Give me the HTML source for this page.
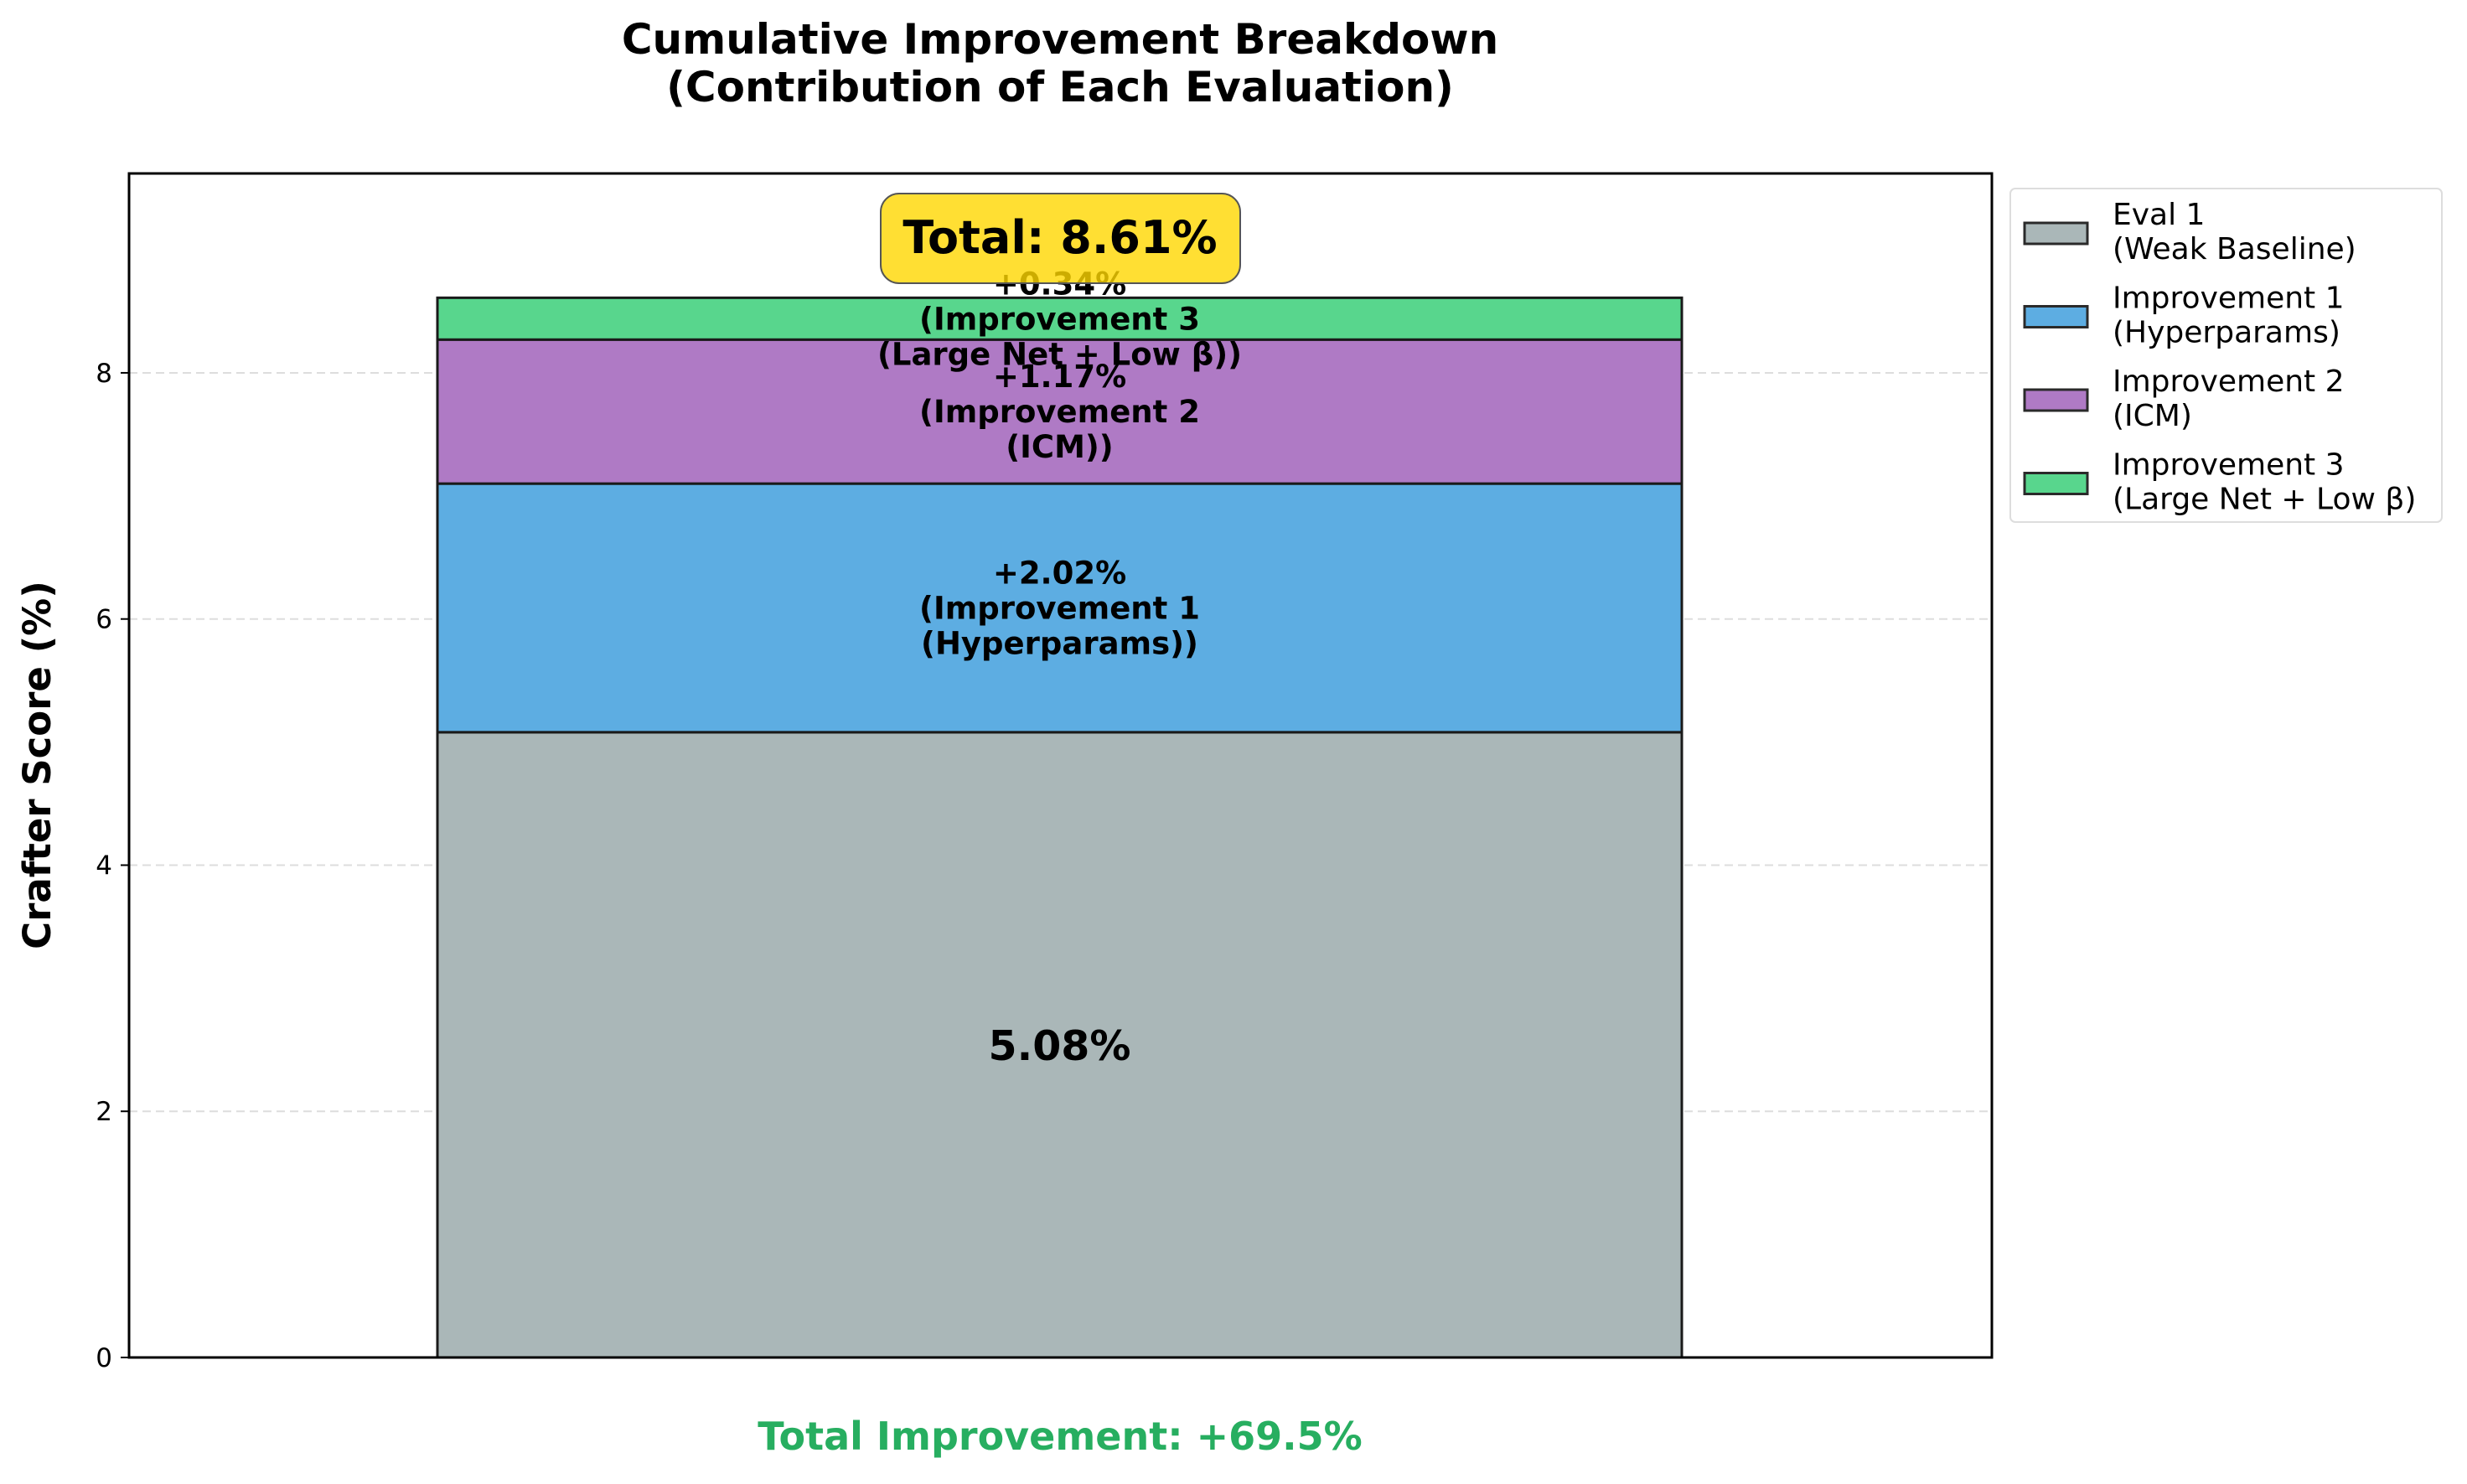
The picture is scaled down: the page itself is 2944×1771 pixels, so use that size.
<!DOCTYPE html>
<html><head><meta charset="utf-8"><style>
html,body{margin:0;padding:0;background:#fff}
svg{display:block;font-family:"DejaVu Sans","Liberation Sans",sans-serif}
</style></head><body>
<svg id="chart" width="2944" height="1771" viewBox="0 0 2944 1771" xmlns="http://www.w3.org/2000/svg">
<rect width="2944" height="1771" fill="#fff"/>
<text x="1265" y="64" text-anchor="middle" font-size="50" font-weight="bold">Cumulative Improvement Breakdown</text>
<text x="1265" y="121" text-anchor="middle" font-size="50" font-weight="bold">(Contribution of Each Evaluation)</text>
<g id="grid"></g>
<g id="bars"></g>
<g id="labels"></g>
<rect x="154" y="207" width="2223" height="1413" fill="none" stroke="#000" stroke-width="3"/>
<g id="yaxis"></g>
<text transform="translate(60,913) rotate(-90)" text-anchor="middle" font-size="45" font-weight="bold">Crafter Score (%)</text>
<g>
<rect x="1051" y="231" width="429" height="107" rx="22" fill="#ffd700" fill-opacity="0.8" stroke="#555" stroke-width="2"/>
<text x="1265" y="302" text-anchor="middle" font-size="54" font-weight="bold">Total: 8.61%</text>
</g>
<text x="1265" y="1730" text-anchor="middle" font-size="46" font-weight="bold" fill="#27ae60">Total Improvement: +69.5%</text>
<g>
<rect x="2399" y="225" width="515" height="398" rx="6" fill="#fff" stroke="#ddd" stroke-width="2"/>
<g id="legend-items"></g>
</g>
</svg>
<script>
const categories = ["Eval 1", "Improvement 1", "Improvement 2", "Improvement 3"];
const subLabels = ["Weak Baseline", "Hyperparams", "ICM", "Large Net + Low β"];
const values = [5.08, 2.02, 1.17, 0.34];
const colors = ["#aab7b8", "#5dade2", "#af7ac5", "#58d68d"];
const yTicks = [0, 2, 4, 6, 8];

const NS = "http://www.w3.org/2000/svg";
const X0 = 154, X1 = 2377, Y0 = 1620, YMAX = 9.62, PLOT_H = 1413;
const y = v => Y0 - v / YMAX * PLOT_H;
const barL = 522, barR = 2007, cx = (barL + barR) / 2;
function mk(tag, attrs, parent) {
  const e = document.createElementNS(NS, tag);
  for (const k in attrs) e.setAttribute(k, attrs[k]);
  parent.appendChild(e); return e;
}
const grid = document.getElementById("grid"), yaxis = document.getElementById("yaxis");
yTicks.forEach(t => {
  const g = mk("line", {x1: X0, x2: X1, y1: y(t), y2: y(t), stroke: "#ddd", "stroke-width": 2, "stroke-dasharray": "10,6"}, grid);
  
  
  const tk = mk("line", {x1: X0 - 10, x2: X0, y1: y(t), y2: y(t), stroke: "#000", "stroke-width": 2}, yaxis);
  
  
  const tl = mk("text", {x: X0 - 20, y: y(t) + 11, "text-anchor": "end", "font-size": 31}, yaxis);
  tl.textContent = t;
  
  
});
const bars = document.getElementById("bars"), labels = document.getElementById("labels");
let cum = 0;
values.forEach((v, i) => {
  const r = mk("rect", {x: barL, y: y(cum + v), width: barR - barL, height: y(cum) - y(cum + v), fill: colors[i], stroke: "#1a1a1a", "stroke-width": 3}, bars);
  
  
  const mid = y(cum + v / 2);
  if (i === 0) {
    const t = mk("text", {x: cx, y: mid + 18, "text-anchor": "middle", "font-size": 49, "font-weight": "bold"}, labels);
    t.textContent = v.toFixed(2) + "%";
    
    
  } else {
    const lines = ["+" + v.toFixed(2) + "%", "(" + categories[i], "(" + subLabels[i] + "))"];
    lines.forEach((s, k) => {
      const t = mk("text", {x: cx, y: mid + (k - 1) * 42 + 13, "text-anchor": "middle", "font-size": 37, "font-weight": "bold"}, labels);
      t.textContent = s;
      
      
    });
  }
  cum += v;
});
const li = document.getElementById("legend-items");
categories.forEach((c, i) => {
  const top = 240 + i * 99.5;
  const sw = mk("rect", {x: 2416, y: top + 26, width: 75, height: 25, fill: colors[i], stroke: "#2a2a2a", "stroke-width": 3}, li);
  
  
  const t1 = mk("text", {x: 2521, y: top + 28, "font-size": 36}, li);
  t1.textContent = c;
  
  
  const t2 = mk("text", {x: 2521, y: top + 69, "font-size": 36}, li);
  t2.textContent = "(" + subLabels[i] + ")";
  
  
});
</script>
</body></html>
